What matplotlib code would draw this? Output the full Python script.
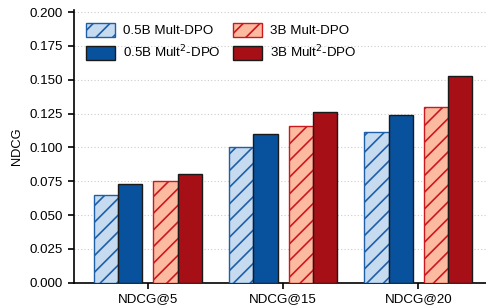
import matplotlib
matplotlib.use("Agg")
import matplotlib.pyplot as plt
import numpy as np

plt.rcParams['font.family'] = ['Liberation Sans', 'DejaVu Sans']
plt.rcParams['hatch.linewidth'] = 1.2

categories = ["NDCG@5", "NDCG@15", "NDCG@20"]
series_names = ["0.5B Mult-DPO", "0.5B Mult$^2$-DPO", "3B Mult-DPO", "3B Mult$^2$-DPO"]
vals_05b_mult = [0.065, 0.100, 0.111]
vals_05b_mult2 = [0.073, 0.110, 0.124]
vals_3b_mult = [0.075, 0.116, 0.130]
vals_3b_mult2 = [0.080, 0.126, 0.153]
yticks = [0.000, 0.025, 0.050, 0.075, 0.100, 0.125, 0.150, 0.175, 0.200]

series = [vals_05b_mult, vals_05b_mult2, vals_3b_mult, vals_3b_mult2]
offsets = [-0.31, -0.13, 0.13, 0.31]
width = 0.18
fills = ["#c6dbef", "#08519c", "#fcbba1", "#a50f15"]
edges = ["#1f5fa8", "#1a1a1a", "#cb181d", "#1a1a1a"]
hatches = ["//", None, "//", None]

W, H = 486, 306
fig = plt.figure(figsize=(W / 100, H / 100), dpi=100)
ax = fig.add_axes([73.5 / W, 23.3 / H, (486 - 73.5) / W, (282.7 - 9.5) / H])

x = np.arange(len(categories))
for vals, off, fc, ec, hh, name in zip(series, offsets, fills, edges, hatches, series_names):
    ax.bar(x + off, vals, width, color=fc, edgecolor=ec, hatch=hh, linewidth=1.0,
           label=name, zorder=3)

ax.set_xlim(-0.55, 2.5)
ax.set_ylim(0, 0.2 * (282.7 - 9.5) / (282.7 - 12))
ax.set_yticks(yticks)
ax.set_yticklabels([f"{t:.3f}" for t in yticks])
ax.set_xticks(x)
ax.set_xticklabels(categories)
ax.tick_params(axis='both', labelsize=9.6, direction='out', length=4, width=1.2, colors='black')
ax.set_ylabel("NDCG", fontsize=9.3, labelpad=5)
ax.yaxis.grid(True, linestyle=(0, (1, 2)), color='#cccccc', linewidth=0.8, zorder=0)
ax.set_axisbelow(True)
for s in ['top', 'right']:
    ax.spines[s].set_visible(False)
for s in ['left', 'bottom']:
    ax.spines[s].set_linewidth(1.2)

ax.legend(ncol=2, loc='upper left', frameon=False, fontsize=9.6,
          bbox_to_anchor=(0.0, 0.995), handlelength=2.2, handleheight=1.2,
          columnspacing=0.9, handletextpad=0.6, labelspacing=0.5)

fig.savefig("out.png", dpi=100)
